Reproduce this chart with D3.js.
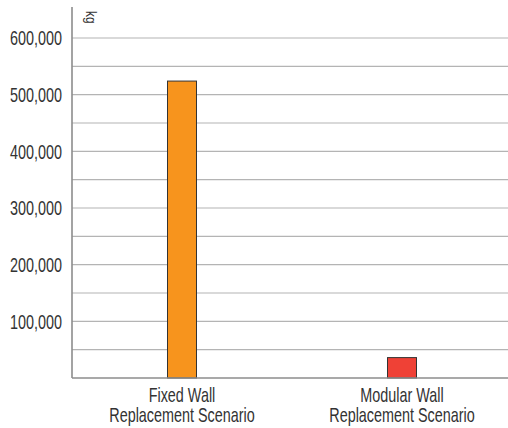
<!DOCTYPE html>
<html>
<head>
<meta charset="utf-8">
<script src="https://cdn.jsdelivr.net/npm/d3@7.9.0/dist/d3.min.js"></script>
<style>
  body { margin: 0; background: #fff; }
  text { font-family: "Liberation Sans", Arial, sans-serif; fill: #333; }
</style>
</head>
<body>
<svg id="chart" width="508" height="428"></svg>
<script>
// data
const categories = ["Fixed Wall\nReplacement Scenario", "Modular Wall\nReplacement Scenario"];
const values = [524000, 36000];
const colors = ["#f7941d", "#ef4136"];
const gridValues = [50000, 100000, 150000, 200000, 250000, 300000, 350000, 400000, 450000, 500000, 550000, 600000];
const tickValues = [100000, 200000, 300000, 400000, 500000, 600000];
const unitLabel = "kg";

let svg = d3.select("#chart");
let left = 72, bottom = 378;
let squeeze = 0.72; // condensed look

let y = d3.scaleLinear().domain([0, 600000]).range([bottom, 38]);
let x = d3.scaleBand().domain(categories).range([left, 512]);

// grid lines
svg.append("g")
  .selectAll("line")
  .data(gridValues)
  .join("line")
  .attr("x1", left)
  .attr("x2", 508)
  .attr("y1", (d) => y(d))
  .attr("y2", (d) => y(d))
  .attr("stroke", "#b4b4b4")
  .attr("stroke-width", 1.2);

// y tick labels
svg.append("g")
  .selectAll("text")
  .data(tickValues)
  .join("text")
  .attr("transform", (d) => `translate(62,${y(d)}) scale(${squeeze},1)`)
  .attr("dy", "0.36em")
  .attr("text-anchor", "end")
  .attr("font-size", 20)
  .text((d) => d3.format(",")(d));

// bars
svg.append("g")
  .selectAll("rect")
  .data(values)
  .join("rect")
  .attr("x", (d, i) => x(categories[i]) + x.bandwidth() / 2 - 14.5)
  .attr("width", 29)
  .attr("y", (d) => y(d))
  .attr("height", (d) => bottom - y(d))
  .attr("fill", (d, i) => colors[i])
  .attr("stroke", "#333")
  .attr("stroke-width", 1);

// axes lines
svg.append("line")
  .attr("x1", left).attr("x2", left)
  .attr("y1", 7).attr("y2", bottom)
  .attr("stroke", "#8c8c8c").attr("stroke-width", 1.6);
svg.append("line")
  .attr("x1", left).attr("x2", 508)
  .attr("y1", bottom).attr("y2", bottom)
  .attr("stroke", "#8c8c8c").attr("stroke-width", 1.6);

// category labels
categories.forEach((c) => {
  let t = svg.append("text")
    .attr("transform", `translate(${x(c) + x.bandwidth() / 2},402) scale(${squeeze},1)`)
    .attr("text-anchor", "middle")
    .attr("font-size", 20);
  c.split("\n").forEach((line, i) => {
    t.append("tspan")
      .attr("x", 0)
      .attr("dy", i === 0 ? 0 : 20)
      .text(line);
  });
});

// unit label
svg.append("text")
  .attr("transform", "translate(86,11) rotate(90) scale(0.85,1)")
  .attr("font-size", 14)
  .text(unitLabel);
</script>
</body>
</html>
